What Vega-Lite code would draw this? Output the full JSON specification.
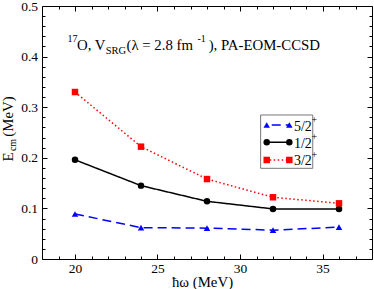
{
  "$schema": "https://vega.github.io/schema/vega-lite/v6.json",
  "width": 330,
  "height": 253,
  "autosize": "none",
  "padding": {"left": 42, "top": 6, "right": 2, "bottom": 30},
  "background": "white",
  "config": {
    "font": "Liberation Serif",
    "view": {"stroke": "black", "strokeWidth": 1},
    "axis": {"grid": false, "domain": false, "tickColor": "black", "tickWidth": 1, "labelColor": "black", "titleColor": "black", "labelFont": "Liberation Serif", "titleFont": "Liberation Serif"}
  },
  "datasets": {
    "series": [
      {"hw": 20, "E": 0.089, "state": "5/2"},
      {"hw": 24, "E": 0.062, "state": "5/2"},
      {"hw": 28, "E": 0.061, "state": "5/2"},
      {"hw": 32, "E": 0.057, "state": "5/2"},
      {"hw": 36, "E": 0.063, "state": "5/2"},
      {"hw": 20, "E": 0.196, "state": "1/2"},
      {"hw": 24, "E": 0.145, "state": "1/2"},
      {"hw": 28, "E": 0.114, "state": "1/2"},
      {"hw": 32, "E": 0.099, "state": "1/2"},
      {"hw": 36, "E": 0.099, "state": "1/2"},
      {"hw": 20, "E": 0.330, "state": "3/2"},
      {"hw": 24, "E": 0.222, "state": "3/2"},
      {"hw": 28, "E": 0.158, "state": "3/2"},
      {"hw": 32, "E": 0.122, "state": "3/2"},
      {"hw": 36, "E": 0.110, "state": "3/2"}
    ],
    "legend": [
      {"state": "5/2", "E": 0.2648},
      {"state": "1/2", "E": 0.2306},
      {"state": "3/2", "E": 0.1957}
    ],
    "one": [{}]
  },
  "resolve": {"axis": {"x": "independent", "y": "independent"}},
  "layer": [
    {
      "data": {"name": "series"},
      "mark": {"type": "line", "strokeWidth": 1.5},
      "encoding": {
        "x": {"field": "hw", "type": "quantitative", "scale": {"domain": [18, 38], "nice": false, "zero": false},
          "axis": {"orient": "bottom", "values": [20, 25, 30, 35], "tickSize": -5, "labelFontSize": 13.5, "labelPadding": 7, "title": "ħω (MeV)", "titleFontSize": 14.8, "titleFontWeight": "normal", "titlePadding": 0, "titleX": 160}},
        "y": {"field": "E", "type": "quantitative", "scale": {"domain": [0, 0.5], "nice": false, "zero": true},
          "axis": {"orient": "left", "values": [0, 0.1, 0.2, 0.3, 0.4, 0.5], "tickSize": -5, "labelFontSize": 13.5, "labelPadding": 9.5, "labelExpr": "datum.value == 0 ? '0' : format(datum.value, '.1f')", "title": null}},
        "color": {"field": "state", "type": "nominal", "scale": {"domain": ["5/2", "1/2", "3/2"], "range": ["#0000ff", "#000000", "#ff0000"]}, "legend": null},
        "strokeDash": {"field": "state", "type": "nominal", "scale": {"domain": ["5/2", "1/2", "3/2"], "range": [[9, 5], [1, 0], [1.5, 2.5]]}, "legend": null},
        "detail": {"field": "state"}
      }
    },
    {
      "data": {"name": "series"},
      "mark": {"type": "point", "filled": true, "size": 42, "opacity": 1, "strokeWidth": 0},
      "encoding": {
        "x": {"field": "hw", "type": "quantitative",
          "axis": {"orient": "bottom", "values": [19, 21, 22, 23, 24, 26, 27, 28, 29, 31, 32, 33, 34, 36, 37], "tickSize": -3, "labels": false, "title": null}},
        "y": {"field": "E", "type": "quantitative",
          "axis": {"orient": "left", "values": [0.02, 0.04, 0.06, 0.08, 0.12, 0.14, 0.16, 0.18, 0.22, 0.24, 0.26, 0.28, 0.32, 0.34, 0.36, 0.38, 0.42, 0.44, 0.46, 0.48], "tickSize": -3, "labels": false, "title": null}},
        "color": {"field": "state", "type": "nominal", "legend": null},
        "shape": {"field": "state", "type": "nominal", "scale": {"domain": ["5/2", "1/2", "3/2"], "range": ["triangle-up", "circle", "square"]}, "legend": null}
      }
    },
    {
      "data": {"name": "one"},
      "mark": {"type": "rect", "fill": "white", "stroke": "#777777", "strokeWidth": 1},
      "encoding": {
        "x": {"datum": 31.25, "type": "quantitative", "axis": null},
        "x2": {"datum": 34.41},
        "y": {"datum": 0.2846, "type": "quantitative", "axis": null},
        "y2": {"datum": 0.1792}
      }
    },
    {
      "data": {"name": "legend"},
      "mark": {"type": "rule", "strokeWidth": 1.5, "strokeDashOffset": 9},
      "encoding": {
        "x": {"datum": 31.62, "type": "quantitative", "axis": null},
        "x2": {"datum": 32.99},
        "y": {"field": "E", "type": "quantitative", "axis": null},
        "color": {"field": "state", "type": "nominal", "legend": null},
        "strokeDash": {"field": "state", "type": "nominal", "legend": null}
      }
    },
    {
      "data": {"name": "legend"},
      "mark": {"type": "point", "filled": true, "size": 42, "opacity": 1, "strokeWidth": 0},
      "encoding": {
        "x": {"datum": 31.62, "type": "quantitative",
          "axis": {"orient": "top", "values": [20, 25, 30, 35], "tickSize": -5, "labels": false, "title": null}},
        "y": {"field": "E", "type": "quantitative",
          "axis": {"orient": "right", "values": [0, 0.1, 0.2, 0.3, 0.4, 0.5], "tickSize": -5, "labels": false, "title": null}},
        "color": {"field": "state", "type": "nominal", "legend": null},
        "shape": {"field": "state", "type": "nominal", "legend": null}
      }
    },
    {
      "data": {"name": "legend"},
      "mark": {"type": "point", "filled": true, "size": 42, "opacity": 1, "strokeWidth": 0},
      "encoding": {
        "x": {"datum": 32.99, "type": "quantitative",
          "axis": {"orient": "top", "values": [19, 21, 22, 23, 24, 26, 27, 28, 29, 31, 32, 33, 34, 36, 37], "tickSize": -3, "labels": false, "title": null}},
        "y": {"field": "E", "type": "quantitative",
          "axis": {"orient": "right", "values": [0.02, 0.04, 0.06, 0.08, 0.12, 0.14, 0.16, 0.18, 0.22, 0.24, 0.26, 0.28, 0.32, 0.34, 0.36, 0.38, 0.42, 0.44, 0.46, 0.48], "tickSize": -3, "labels": false, "title": null}},
        "color": {"field": "state", "type": "nominal", "legend": null},
        "shape": {"field": "state", "type": "nominal", "legend": null}
      }
    },
    {
      "data": {"name": "legend"},
      "mark": {"type": "text", "align": "left", "baseline": "middle", "fontSize": 14, "color": "black", "dy": 1.5},
      "encoding": {
        "x": {"datum": 33.27, "type": "quantitative", "axis": null},
        "y": {"field": "E", "type": "quantitative", "axis": null},
        "text": {"field": "state"}
      }
    },
    {
      "data": {"name": "legend"},
      "mark": {"type": "text", "align": "left", "baseline": "middle", "fontSize": 10, "color": "black", "dx": 17.5, "dy": -5},
      "encoding": {
        "x": {"datum": 33.27, "type": "quantitative", "axis": null},
        "y": {"field": "E", "type": "quantitative", "axis": null},
        "text": {"value": "+"}
      }
    },
    {
      "data": {"name": "one"},
      "mark": {"type": "text", "align": "left", "baseline": "alphabetic", "fontSize": 10, "color": "black"},
      "encoding": {
        "x": {"datum": 19.55, "type": "quantitative", "axis": null},
        "y": {"datum": 0.428, "type": "quantitative", "axis": null},
        "text": {"value": "17"}
      }
    },
    {
      "data": {"name": "one"},
      "mark": {"type": "text", "align": "left", "baseline": "alphabetic", "fontSize": 14.8, "color": "black"},
      "encoding": {
        "x": {"datum": 20.12, "type": "quantitative", "axis": null},
        "y": {"datum": 0.413, "type": "quantitative", "axis": null},
        "text": {"value": "O, V"}
      }
    },
    {
      "data": {"name": "one"},
      "mark": {"type": "text", "align": "left", "baseline": "alphabetic", "fontSize": 10.5, "color": "black"},
      "encoding": {
        "x": {"datum": 21.86, "type": "quantitative", "axis": null},
        "y": {"datum": 0.406, "type": "quantitative", "axis": null},
        "text": {"value": "SRG"}
      }
    },
    {
      "data": {"name": "one"},
      "mark": {"type": "text", "align": "left", "baseline": "alphabetic", "fontSize": 14.8, "color": "black"},
      "encoding": {
        "x": {"datum": 23.12, "type": "quantitative", "axis": null},
        "y": {"datum": 0.413, "type": "quantitative", "axis": null},
        "text": {"value": "(λ = 2.8 fm"}
      }
    },
    {
      "data": {"name": "one"},
      "mark": {"type": "text", "align": "left", "baseline": "alphabetic", "fontSize": 10, "color": "black"},
      "encoding": {
        "x": {"datum": 27.42, "type": "quantitative", "axis": null},
        "y": {"datum": 0.428, "type": "quantitative", "axis": null},
        "text": {"value": "-1"}
      }
    },
    {
      "data": {"name": "one"},
      "mark": {"type": "text", "align": "left", "baseline": "alphabetic", "fontSize": 14.8, "color": "black"},
      "encoding": {
        "x": {"datum": 28.1, "type": "quantitative", "axis": null},
        "y": {"datum": 0.413, "type": "quantitative", "axis": null},
        "text": {"value": "), PA-EOM-CCSD"}
      }
    },
    {
      "data": {"name": "one"},
      "mark": {"type": "text", "align": "center", "baseline": "middle", "fontSize": 14.8, "color": "black", "angle": 270},
      "encoding": {
        "x": {"datum": 16.0, "type": "quantitative", "axis": null},
        "y": {"datum": 0.2016, "type": "quantitative", "axis": null},
        "text": {"value": "E"}
      }
    },
    {
      "data": {"name": "one"},
      "mark": {"type": "text", "align": "center", "baseline": "middle", "fontSize": 10, "color": "black", "angle": 270},
      "encoding": {
        "x": {"datum": 16.26, "type": "quantitative", "axis": null},
        "y": {"datum": 0.2253, "type": "quantitative", "axis": null},
        "text": {"value": "cm"}
      }
    },
    {
      "data": {"name": "one"},
      "mark": {"type": "text", "align": "center", "baseline": "middle", "fontSize": 14.8, "color": "black", "angle": 270},
      "encoding": {
        "x": {"datum": 16.0, "type": "quantitative", "axis": null},
        "y": {"datum": 0.2816, "type": "quantitative", "axis": null},
        "text": {"value": "(MeV)"}
      }
    }
  ]
}
